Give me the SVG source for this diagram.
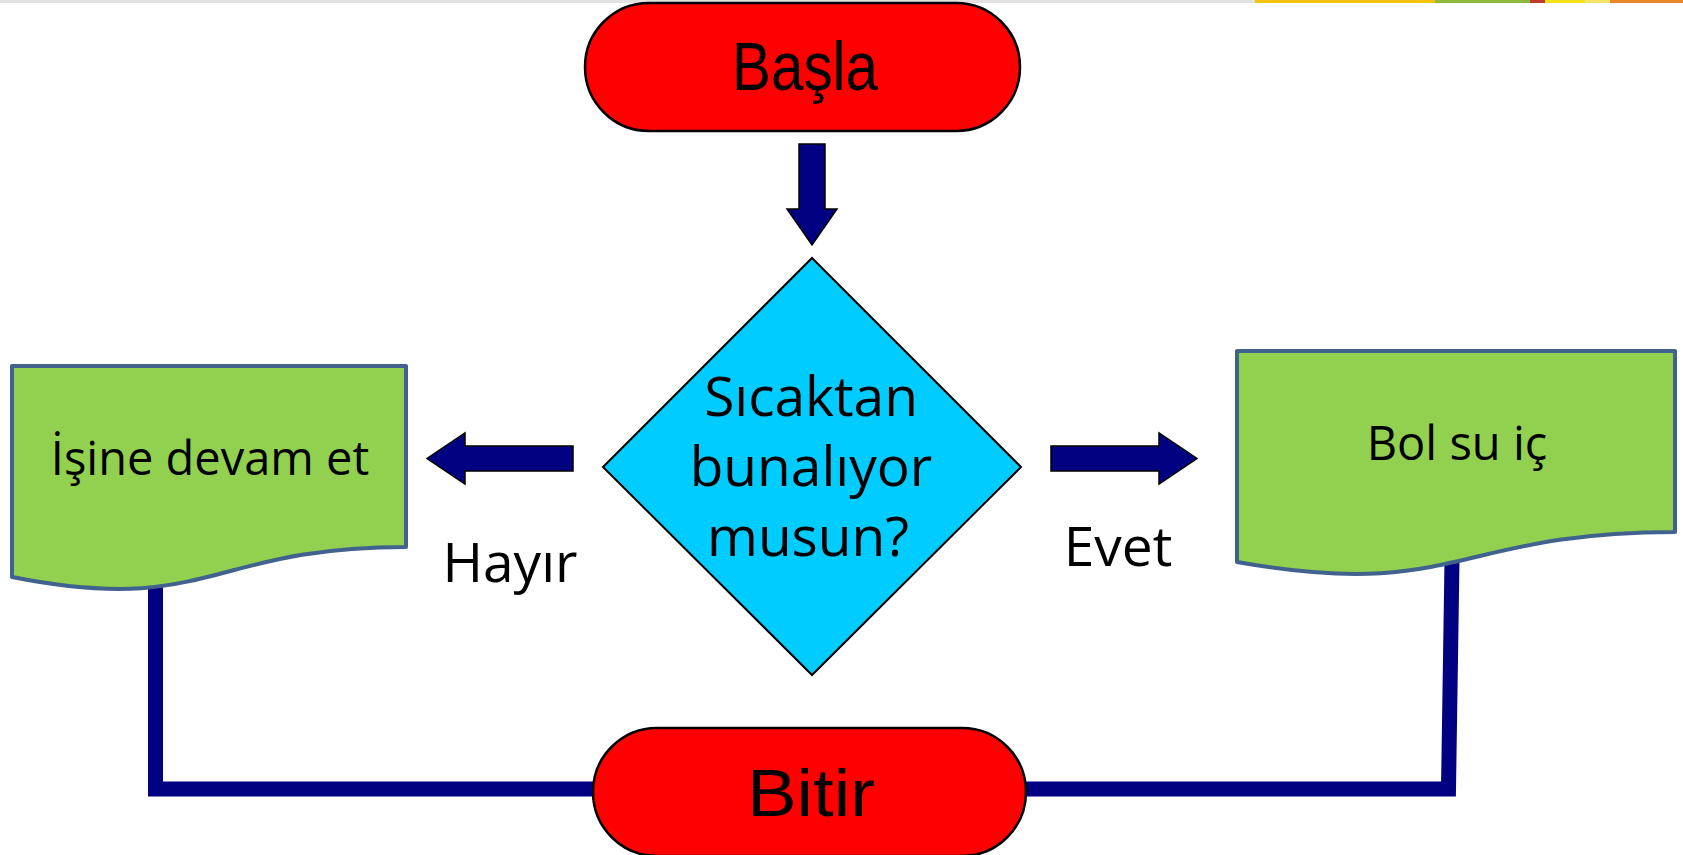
<svg xmlns="http://www.w3.org/2000/svg" width="1683" height="855" viewBox="0 0 1683 855">
<style>
.term{fill:#FF0000;stroke:#000;stroke-width:2.5}
.doc{fill:#92D050;stroke:#41628F;stroke-width:4;stroke-linejoin:round}
.dec{fill:#00CCFF;stroke:#000;stroke-width:2}
.arr{fill:#000080;stroke:#000;stroke-width:1.5;stroke-linejoin:miter}
.conn{fill:none;stroke:#000080;stroke-width:15;stroke-linejoin:miter}
.tt{font-family:"Comic Sans MS","Liberation Sans",sans-serif;fill:#000;text-anchor:middle}
.st{font-family:"Open Sans","Noto Sans",sans-serif;fill:#000;text-anchor:middle}
</style>
<rect x="0" y="0" width="1683" height="855" fill="#fff"/>
<g id="topstrip">
<rect x="0" y="0" width="1683" height="3" fill="#e2e2e2"/>
<rect x="1255" y="0" width="180" height="3" fill="#f2c20f"/>
<rect x="1435" y="0" width="95" height="3" fill="#8db83a"/>
<rect x="1530" y="0" width="15" height="3" fill="#c0392b"/>
<rect x="1545" y="0" width="40" height="3" fill="#f4e01b"/>
<rect x="1585" y="0" width="25" height="3" fill="#f6e36a"/>
<rect x="1610" y="0" width="73" height="3" fill="#e8872a"/>
</g>
<g id="connectors">
<path class="conn" d="M155.5,585 V789 H600"/>
<path class="conn" d="M1452,560 L1448.5,789 H1020"/>
<polygon class="arr" points="799,144 825,144 825,209 837,209 812,245 787,209 799,209"/>
<polygon class="arr" points="573,446 573,471 465,471 465,484 427,458.5 465,433 465,446"/>
<polygon class="arr" points="1051,446 1159,446 1159,433 1197,458.5 1159,484 1159,471 1051,471"/>
</g>
<g id="start">
<rect class="term" x="585" y="3" width="435" height="128" rx="64" ry="64"/>
<text class="tt" x="805" y="90" font-size="68" textLength="146" lengthAdjust="spacingAndGlyphs">Başla</text>
</g>
<g id="decision">
<polygon class="dec" points="812,258 1021,467 812,675 603,467"/>
<text class="st" x="811" y="416" font-size="55">Sıcaktan</text>
<text class="st" x="811" y="486" font-size="55">bunalıyor</text>
<text class="st" x="808" y="556" font-size="55">musun?</text>
</g>
<g id="no-box">
<path class="doc" d="M12,366 H406 V547 C209,547 209,616 12,577 Z"/>
<text class="st" x="210" y="475" font-size="47">İşine devam et</text>
</g>
<g id="yes-box">
<path class="doc" d="M1237,351 H1675 V532 C1456,532 1456,601 1237,562 Z"/>
<text class="st" x="1457" y="460" font-size="47">Bol su iç</text>
</g>
<g id="labels">
<text class="st" x="510" y="582" font-size="55">Hayır</text>
<text class="st" x="1118" y="566" font-size="55">Evet</text>
</g>
<g id="end">
<rect class="term" x="593" y="728" width="433" height="128" rx="64" ry="64"/>
<text class="tt" x="811" y="816" font-size="66" textLength="128" lengthAdjust="spacingAndGlyphs">Bitir</text>
</g>
</svg>
